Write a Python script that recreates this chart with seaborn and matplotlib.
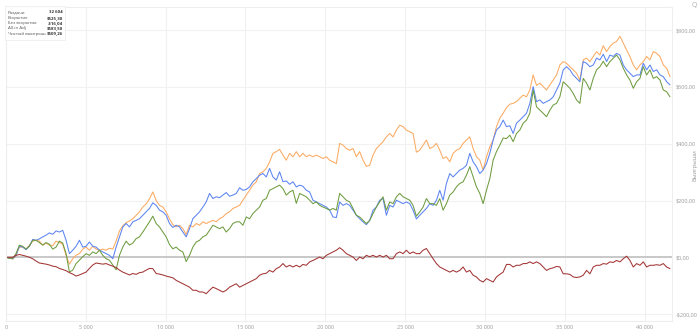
import numpy as np
import pandas as pd
import matplotlib
matplotlib.use("Agg")
import matplotlib.pyplot as plt
import seaborn as sns

# Cumulative results sampled every HAND_STEP hands
HAND_STEP = 209

all_in_adj = [
    0, -3, -5, 7, 36, 36, 29, 43, 57, 60, 57, 43, 50, 43, 41, 57, 52, 46, 7, -24,
    -5, 7, 13, 29, 36, 25, 39, 29, 25, 29, 25, 32, 29, 57, 93, 111, 122, 128, 136, 148,
    160, 177, 188, 206, 230, 200, 183, 177, 160, 135, 115, 107, 113, 101, 80, 113, 107, 119, 113, 125,
    119, 125, 130, 125, 136, 142, 154, 160, 172, 177, 183, 201, 219, 236, 254, 266, 295, 301, 313, 336,
    366, 372, 380, 360, 342, 366, 354, 372, 354, 366, 354, 360, 354, 360, 354, 348, 354, 342, 336, 330,
    401, 395, 383, 377, 383, 354, 372, 342, 320, 324, 360, 383, 395, 407, 424, 436, 424, 448, 465, 460,
    448, 442, 436, 370, 377, 395, 413, 383, 389, 401, 377, 348, 354, 336, 366, 377, 383, 401, 413, 424,
    383, 354, 342, 307, 354, 389, 413, 460, 490, 507, 527, 539, 542, 548, 560, 571, 565, 589, 642, 605,
    613, 601, 589, 607, 624, 642, 677, 689, 683, 671, 660, 648, 624, 695, 701, 689, 707, 724, 712, 745,
    724, 742, 754, 760, 778, 754, 730, 707, 677, 660, 677, 689, 707, 695, 724, 718, 707, 677, 666, 636,
]

showdown = [
    0, -3, -5, 7, 39, 36, 27, 39, 63, 60, 65, 72, 78, 86, 81, 93, 89, 95, 60, 13,
    25, 39, 60, 36, 39, 54, 39, 36, 25, 19, 13, 7, -5, 36, 72, 107, 119, 107, 125, 130,
    136, 148, 160, 172, 192, 183, 166, 160, 148, 119, 105, 113, 107, 89, 72, 101, 136, 148, 160, 177,
    195, 225, 207, 213, 210, 219, 228, 215, 219, 225, 245, 236, 239, 248, 266, 277, 289, 295, 283, 313,
    283, 272, 301, 266, 269, 257, 266, 248, 254, 250, 236, 230, 201, 195, 189, 183, 177, 166, 142, 140,
    195, 183, 189, 183, 166, 148, 136, 125, 115, 130, 166, 177, 201, 207, 148, 183, 177, 201, 195, 189,
    195, 189, 166, 135, 148, 160, 172, 189, 183, 201, 236, 201, 260, 295, 283, 295, 307, 313, 324, 366,
    336, 319, 295, 307, 330, 366, 413, 448, 460, 483, 460, 463, 436, 472, 483, 495, 507, 542, 601, 548,
    554, 542, 548, 554, 565, 589, 613, 660, 671, 660, 642, 630, 618, 689, 683, 671, 677, 701, 695, 715,
    689, 712, 707, 718, 712, 677, 660, 648, 636, 642, 642, 683, 660, 677, 654, 660, 642, 636, 618, 607,
]

non_showdown = [
    0, 0, 0, 7, 10, 7, 4, 0, -5, -13, -20, -22, -24, -27, -31, -33, -39, -43, -47, -54,
    -59, -66, -62, -57, -52, -39, -27, -20, -22, -24, -22, -27, -31, -36, -45, -52, -57, -62, -57, -60,
    -54, -52, -45, -39, -40, -57, -59, -62, -66, -69, -72, -81, -87, -93, -99, -105, -116, -116, -122, -122,
    -128, -116, -105, -110, -116, -122, -116, -105, -99, -93, -105, -99, -93, -87, -81, -75, -63, -58, -56, -46,
    -52, -40, -34, -22, -34, -28, -34, -28, -34, -25, -28, -16, -11, -5, 1, -5, 7, 13, 19, 25,
    34, 25, 13, 7, 1, -11, 1, -5, 7, 2, 7, 1, 7, 1, 7, -5, -5, 13, 19, 13,
    25, 13, 19, 13, 13, 25, 31, 13, -5, -22, -34, -40, -46, -52, -46, -52, -46, -34, -52, -46,
    -63, -69, -81, -87, -75, -81, -87, -69, -60, -52, -25, -25, -34, -28, -28, -22, -22, -16, -22, -16,
    -22, -34, -46, -40, -37, -32, -34, -58, -58, -60, -69, -71, -69, -63, -46, -58, -34, -28, -28, -22,
    -24, -16, -18, -11, -16, -5, 4, -11, -34, -22, -28, -16, -34, -28, -28, -26, -28, -22, -34, -40,
]

net_won = [
    0, -3, -5, 13, 43, 39, 29, 39, 60, 60, 52, 43, 52, 46, 29, 36, 57, 50, 13, -52,
    -45, -22, -10, 2, 13, 7, 19, 13, 25, 7, -5, -10, -27, -44, 7, 36, 57, 43, 50, 66,
    72, 89, 107, 125, 145, 119, 107, 89, 72, 45, 30, 36, 25, 19, -15, 7, 36, 54, 60, 72,
    78, 95, 113, 107, 101, 107, 89, 101, 119, 125, 125, 113, 142, 136, 154, 166, 177, 201, 207, 236,
    242, 248, 254, 242, 219, 230, 236, 190, 225, 219, 213, 201, 189, 195, 183, 177, 172, 166, 172, 166,
    225, 213, 201, 195, 172, 148, 142, 130, 119, 130, 154, 177, 195, 213, 166, 195, 189, 213, 225, 213,
    207, 201, 183, 145, 160, 177, 207, 189, 189, 183, 207, 166, 189, 219, 230, 248, 260, 266, 289, 319,
    283, 248, 225, 189, 236, 277, 342, 372, 395, 420, 418, 430, 407, 436, 448, 472, 483, 507, 589, 530,
    518, 507, 495, 518, 536, 542, 565, 618, 607, 595, 577, 554, 542, 630, 613, 589, 630, 660, 671, 690,
    671, 689, 701, 712, 695, 666, 642, 624, 595, 618, 630, 671, 642, 660, 630, 636, 624, 589, 583, 565,
]

series_names = ["All-in Adj", "Вскрытие", "Чистый выигрыш", "Без вскрытия"]
series_values = [all_in_adj, showdown, net_won, non_showdown]
series_colors = {
    "All-in Adj": "#fbaa62",
    "Вскрытие": "#5b84f2",
    "Чистый выигрыш": "#6e9c40",
    "Без вскрытия": "#a33434",
}

summary_labels = ["Раздачи", "Вскрытие", "Без вскрытия", "All-in Adj", "Чистый выигрыш"]
summary_values = ["32 604", "$525,30", "-$16,04", "$583,50", "$509,26"]

x_ticks = [0, 5000, 10000, 15000, 20000, 25000, 30000, 35000, 40000]
y_ticks = [-200, 0, 200, 400, 600, 800]

n = len(net_won)
hands = np.arange(n) * HAND_STEP
frames = []
for name, vals in zip(series_names, series_values):
    frames.append(pd.DataFrame({"hands": hands, "won": vals, "series": name}))
df = pd.concat(frames, ignore_index=True)

sns.set_theme(style="white")
plt.rcParams["font.family"] = ["Open Sans", "DejaVu Sans"]

fig = plt.figure(figsize=(7.0, 3.33), dpi=100)
ax = fig.add_axes([0.0086, 0.037, 0.951, 0.941])

# Light grid and the zero baseline
for xt in x_ticks:
    ax.axvline(xt, color="#f1f1f1", lw=0.8, zorder=0)
for yt in y_ticks:
    if yt != 0:
        ax.axhline(yt, color="#f1f1f1", lw=0.8, zorder=0)
ax.axhline(0, color="#c4c4c4", lw=1.3, zorder=1)

sns.lineplot(data=df, x="hands", y="won", hue="series", hue_order=series_names,
             palette=series_colors, linewidth=0.75, legend=False, ax=ax,
             estimator=None, sort=False)

ax.set_xlim(0, 41700)
ax.set_ylim(-223, 880)

ax.set_xticks(x_ticks)
ax.set_xticklabels([f"{t:,}".replace(",", " ") for t in x_ticks])
ax.yaxis.tick_right()
ax.set_yticks(y_ticks)


def money(v):
    sign = "-" if v < 0 else ""
    return f"{sign}${abs(v):,.2f}".replace(".", ",")


ax.set_yticklabels([money(t) for t in y_ticks])
ax.tick_params(axis="both", length=0, labelsize=4.0, labelcolor="#9a9a9a", pad=3)
ax.set_xlabel("")
ax.set_ylabel("")
for s in ax.spines.values():
    s.set_visible(True)
    s.set_color("#eeeeee")
    s.set_linewidth(0.8)

# Axis title on the right edge
fig.text(694.5 / 700, 0.505, "Выигрыши", rotation=90, fontsize=4.2, color="#9a9a9a",
         ha="center", va="center")

# Summary box in the upper-left corner
box = matplotlib.patches.FancyBboxPatch((5 / 700, 1 - 40 / 333), 60 / 700, 34 / 333,
                                        boxstyle="square,pad=0", transform=fig.transFigure,
                                        facecolor="white", edgecolor="#ececec", lw=0.6,
                                        alpha=0.9, zorder=5)
fig.patches.append(box)
for i, (lab, val) in enumerate(zip(summary_labels, summary_values)):
    yy = 1 - (12.3 + 5.3 * i) / 333
    fig.text(8 / 700, yy, lab, fontsize=3.2, color="#555555", va="center", ha="left", zorder=6)
    fig.text(63 / 700, yy, val, fontsize=3.2, color="#333333", va="center", ha="right",
             fontweight="bold", zorder=6)

fig.text(694 / 700, 1 - 5 / 333, "Q", fontsize=5, color="#b0b0b0", ha="center", va="center")

fig.savefig("out.png", dpi=100)
